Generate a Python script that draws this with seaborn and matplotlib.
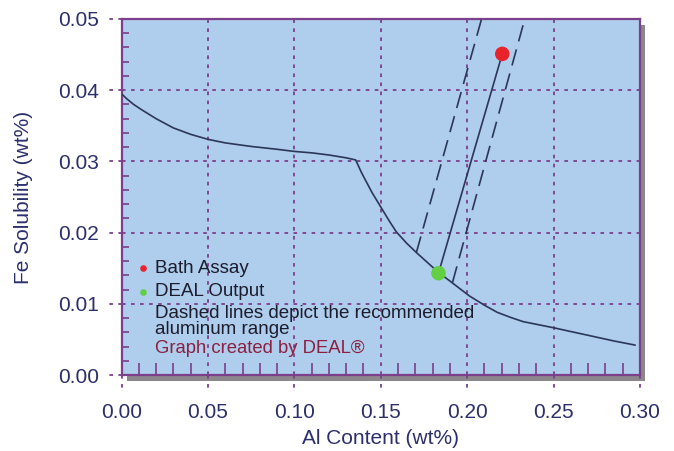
import matplotlib
matplotlib.use("Agg")
import matplotlib.pyplot as plt
from matplotlib.patches import Rectangle
from matplotlib.ticker import MultipleLocator
import matplotlib.transforms as mtransforms
import numpy as np
import pandas as pd
import seaborn as sns

# Iron solubility curve vs. aluminium content
al_content = [0.000, 0.003, 0.007, 0.012, 0.020, 0.030, 0.040, 0.050, 0.060,
              0.075, 0.090, 0.100, 0.110, 0.120, 0.130, 0.1355, 0.137, 0.1385,
              0.1404, 0.145, 0.150, 0.155, 0.159, 0.165, 0.1706, 0.177, 0.1834,
              0.190, 0.2013, 0.210, 0.2174, 0.225, 0.2323, 0.2507, 0.260,
              0.2695, 0.2845, 0.2972]
fe_solubility = [0.0395, 0.0388, 0.0380, 0.0372, 0.0360, 0.0347, 0.0338, 0.0331,
                 0.0326, 0.0321, 0.0317, 0.0314, 0.0312, 0.0309, 0.0305, 0.0302,
                 0.0294, 0.0286, 0.0277, 0.0256, 0.0236, 0.0216, 0.0201, 0.0185,
                 0.0172, 0.0158, 0.0144, 0.0132, 0.0111, 0.0098, 0.0088, 0.0081,
                 0.0075, 0.0066, 0.0061, 0.0056, 0.0048, 0.0042]

# Bath assay and model output points
bath_assay = (0.2203, 0.0451)
deal_output = (0.1834, 0.0143)

# Recommended aluminium range (dashed limits): (x_start, y_start, x_end, y_end)
range_low = (0.1706, 0.0172, 0.2083, 0.0500)
range_high = (0.1915, 0.0130, 0.2333, 0.0500)

x_ticks = [0.00, 0.05, 0.10, 0.15, 0.20, 0.25, 0.30]
y_ticks = [0.00, 0.01, 0.02, 0.03, 0.04, 0.05]

purple = "#7b3f8c"
navy = "#2b2f6b"
bg_blue = "#afcdec"
curve_col = "#2c3658"
text_col = "#1c1c2c"

sns.set_theme(style="white")
plt.rcParams["font.family"] = ["Liberation Sans", "DejaVu Sans"]

fig = plt.figure(figsize=(6.74, 4.51), dpi=100)
ax = fig.add_axes([0.1803, 0.1685, 0.9496 - 0.1803, 0.9579 - 0.1685])
ax.set_zorder(2)
ax.set_facecolor(bg_blue)

# drop shadow behind the plot frame
pos = ax.get_position()
off_x, off_y = 5 / 674, 6 / 451
fig.patches.append(Rectangle((pos.x0 + off_x, pos.y0 - off_y), pos.width, pos.height,
                             transform=fig.transFigure, facecolor="#8c878b",
                             edgecolor="none", zorder=-1))

ax.set_xlim(0, 0.30)
ax.set_ylim(0, 0.05)
ax.set_xticks(x_ticks)
ax.set_yticks(y_ticks)
ax.set_xticklabels([f"{v:.2f}" for v in x_ticks])
ax.set_yticklabels([f"{v:.2f}" for v in y_ticks])
ax.xaxis.set_minor_locator(MultipleLocator(0.01))
ax.yaxis.set_minor_locator(MultipleLocator(0.002))

ax.grid(True, which="major", color=purple, linestyle=(0, (2, 3)), linewidth=1.3)
for s in ax.spines.values():
    s.set_color(purple)
    s.set_linewidth(1.6)

ax.tick_params(axis="x", which="major", length=0, pad=20,
               labelsize=15, labelcolor=navy)
ax.tick_params(axis="y", which="major", length=0, pad=16,
               labelsize=15, labelcolor=navy)
ax.tick_params(axis="y", which="minor", direction="in", length=5,
               width=1.2, color=purple, left=True)
ax.tick_params(axis="x", which="minor", direction="in", length=9,
               width=1.2, color=purple, bottom=True)

# dotted tick extensions outside the frame
tx = mtransforms.blended_transform_factory(ax.transData, ax.transAxes)
ty = mtransforms.blended_transform_factory(ax.transAxes, ax.transData)
for v in x_ticks:
    ax.plot([v, v], [0, -0.045], transform=tx, color=purple, lw=1.3,
            linestyle=(0, (2, 3)), clip_on=False)
for v in y_ticks:
    ax.plot([0, -0.03], [v, v], transform=ty, color=purple, lw=1.3,
            linestyle=(0, (2, 3)), clip_on=False)

curve = pd.DataFrame({"al": al_content, "fe": fe_solubility})
sns.lineplot(data=curve, x="al", y="fe", ax=ax, color=curve_col, lw=1.2,
             sort=False, zorder=3)

for seg in (range_low, range_high):
    ax.plot([seg[0], seg[2]], [seg[1], seg[3]], color=curve_col, lw=1.2,
            dashes=(10, 5), zorder=3)
ax.plot([deal_output[0], bath_assay[0]], [deal_output[1], bath_assay[1]],
        color=curve_col, lw=1.2, zorder=3)

pts = pd.DataFrame({"al": [bath_assay[0], deal_output[0]],
                    "fe": [bath_assay[1], deal_output[1]],
                    "kind": ["Bath Assay", "DEAL Output"]})
sns.scatterplot(data=pts, x="al", y="fe", hue="kind",
                palette={"Bath Assay": "#e8232b", "DEAL Output": "#62cf45"},
                s=110, edgecolor="none", legend=False, ax=ax, zorder=4)

ax.set_xlabel("Al Content (wt%)", fontsize=15, color=navy, labelpad=5)
ax.set_ylabel("Fe Solubility (wt%)", fontsize=15, color=navy, labelpad=18)

# annotation block
ax.scatter([0.0123], [0.0150], s=14, color="#e8232b", zorder=5)
ax.scatter([0.0123], [0.0117], s=14, color="#62cf45", zorder=5)
ax.text(0.0192, 0.0150, "Bath Assay", fontsize=13.5, color=text_col, va="center")
ax.text(0.0192, 0.0117, "DEAL Output", fontsize=13.5, color=text_col, va="center")
ax.text(0.0192, 0.0087, "Dashed lines depict the recommended",
        fontsize=13.5, color=text_col, va="center")
ax.text(0.0192, 0.0064, "aluminum range",
        fontsize=13.5, color=text_col, va="center")
ax.text(0.0192, 0.0037, "Graph created by DEAL\u00ae", fontsize=13.3,
        color="#8b2040", va="center")

ax.set_axisbelow(True)
fig.savefig("out.png", dpi=100)
